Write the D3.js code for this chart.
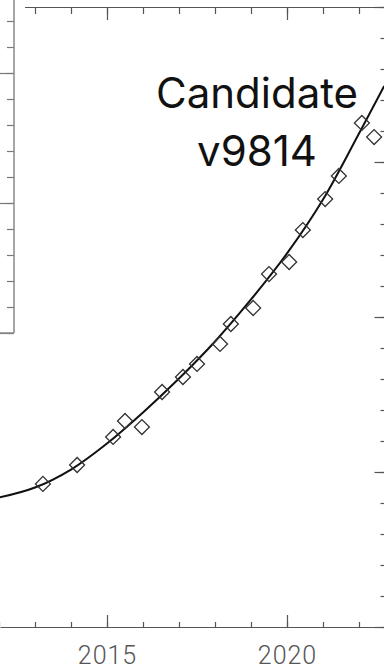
<!DOCTYPE html>
<html>
<head>
<meta charset="utf-8">
<script src="https://cdn.jsdelivr.net/npm/d3@7/dist/d3.min.js"></script>
<style>
  html, body { margin: 0; padding: 0; background: #fff; }
  svg { display: block; }
</style>
</head>
<body>
<svg id="chart" width="384" height="672"></svg>
<script>
// Observed measurements (decimal year, value)
const obsYears  = [2013.22, 2014.17, 2015.17, 2015.50, 2015.97, 2016.53, 2017.11, 2017.50, 2018.14,
                   2018.44, 2019.06, 2019.50, 2020.06, 2020.44, 2021.06, 2021.44, 2022.08, 2022.42];
const obsValues = [0.923, 1.045, 1.226, 1.329, 1.290, 1.516, 1.613, 1.697, 1.826,
                   1.955, 2.058, 2.277, 2.355, 2.561, 2.761, 2.910, 3.252, 3.161];

// Fitted trend, sampled once per year
const fitYears  = [2012, 2013, 2014, 2015, 2016, 2017, 2018, 2019, 2020, 2021, 2022, 2022.7];
const fitValues = [0.835, 0.900, 1.016, 1.184, 1.384, 1.603, 1.842, 2.113, 2.410, 2.758, 3.184, 3.490];

// Axis ticks
const yearLabels  = ["2015", "2020"];
const yearMajor   = [2015, 2020];
const yearMinor   = d3.range(2012, 2023, 1);
const valueMajor  = [0, 1, 2, 3, 4];
const valueMinor  = d3.range(0, 4.001, 0.2);
const insetMajor  = [0, 5, 10];
const insetMinor  = d3.range(0, 12.51, 1);

const title = ["Candidate", "v9814"];

const svg = d3.select("#chart");

// one year spans 36px; 2015 sits at x = 107
const x = d3.scaleLinear()
  .domain([2015 - 107 / 36, 2015 + (384 - 107) / 36])
  .range([0, 384]);
const y = d3.scaleLinear().domain([0, 4]).range([627, 7]);

const axisColor = "#555";

function styleAxis(g, color) {
  g.select(".domain").attr("stroke", color).attr("stroke-width", 1.2);
  g.selectAll(".tick line").attr("stroke", color).attr("stroke-width", 1.2);
}

// Bottom axis: minor ticks, then major ticks with year labels
const xMinorBottom = svg.append("g").attr("transform", "translate(0,627)")
  .call(d3.axisBottom(x).tickValues(yearMinor).tickSizeInner(-5).tickSizeOuter(0).tickFormat(""));
styleAxis(xMinorBottom, axisColor);

const xMajorBottom = svg.append("g").attr("transform", "translate(0,627)")
  .call(d3.axisBottom(x).tickValues(yearMajor).tickSizeInner(-12).tickSizeOuter(0)
    .tickPadding(19)
    .tickFormat((d, i) => yearLabels[i]));
styleAxis(xMajorBottom, axisColor);
xMajorBottom.select(".domain").remove();
xMajorBottom.selectAll(".tick text")
  .attr("fill", "#555")
  .style("font-family", "Roboto, 'Noto Sans', sans-serif")
  .style("font-weight", 300)
  .style("font-size", "25px")
  .style("letter-spacing", "1px");

// Top axis: ticks pointing down, no labels
const xMinorTop = svg.append("g").attr("transform", "translate(0,7)")
  .call(d3.axisTop(x).tickValues(yearMinor).tickSizeInner(-7).tickSizeOuter(0).tickFormat(""));
styleAxis(xMinorTop, axisColor);
const xMajorTop = svg.append("g").attr("transform", "translate(0,7)")
  .call(d3.axisTop(x).tickValues(yearMajor).tickSizeInner(-13).tickSizeOuter(0).tickFormat(""));
styleAxis(xMajorTop, axisColor);
xMajorTop.select(".domain").remove();

// Right axis: ticks pointing inward
const yMinor = svg.append("g").attr("transform", "translate(384.5,0)")
  .call(d3.axisRight(y).tickValues(valueMinor).tickSizeInner(-4).tickSizeOuter(0).tickFormat(""));
styleAxis(yMinor, axisColor);
const yMajor = svg.append("g").attr("transform", "translate(384.5,0)")
  .call(d3.axisRight(y).tickValues(valueMajor).tickSizeInner(-10).tickSizeOuter(0).tickFormat(""));
styleAxis(yMajor, axisColor);
yMajor.select(".domain").remove();

// Fitted trend line
const line = d3.line()
  .x((d, i) => x(fitYears[i]))
  .y(d => y(d))
  .curve(d3.curveCatmullRom.alpha(0.5));

svg.append("path")
  .datum(fitValues)
  .attr("d", line)
  .attr("fill", "none")
  .attr("stroke", "#111")
  .attr("stroke-width", 2);

// Observed points as open diamonds
const diamond = d3.symbol().type(d3.symbolSquare).size(112);
svg.append("g")
  .selectAll("path")
  .data(obsValues)
  .join("path")
  .attr("d", diamond)
  .attr("transform", (d, i) => `translate(${x(obsYears[i])},${y(d)}) rotate(45)`)
  .attr("fill", "none")
  .attr("stroke", "#333")
  .attr("stroke-width", 1.3);

// Inset panel in the upper-left corner
const inset = svg.append("g");
inset.append("rect")
  .attr("x", -10).attr("y", -10)
  .attr("width", 35).attr("height", 350)
  .attr("fill", "#fff");

const yi = d3.scaleLinear().domain([0, 12.5]).range([333, 8]);
const insetMinorAxis = inset.append("g").attr("transform", "translate(14,0)")
  .call(d3.axisLeft(yi).tickValues(insetMinor).tickSizeInner(7).tickSizeOuter(0).tickFormat(""));
styleAxis(insetMinorAxis, "#777");
insetMinorAxis.select(".domain").remove();
const insetMajorAxis = inset.append("g").attr("transform", "translate(14,0)")
  .call(d3.axisLeft(yi).tickValues(insetMajor).tickSizeInner(15).tickSizeOuter(0).tickFormat(""));
styleAxis(insetMajorAxis, "#777");
insetMajorAxis.select(".domain").remove();

inset.append("line")
  .attr("x1", 14).attr("x2", 14).attr("y1", -2).attr("y2", 333)
  .attr("stroke", "#888").attr("stroke-width", 1.5);
inset.append("line")
  .attr("x1", -2).attr("x2", 14).attr("y1", 333).attr("y2", 333)
  .attr("stroke", "#888").attr("stroke-width", 1.5);

// Series label
const label = svg.append("text")
  .attr("text-anchor", "middle")
  .attr("fill", "#111")
  .style("font-family", "Inter, 'Noto Sans', sans-serif")
  .style("font-size", "42px");
label.selectAll("tspan")
  .data(title)
  .join("tspan")
  .attr("x", 257)
  .attr("y", (d, i) => 108 + i * 58)
  .text(d => d);
</script>
</body>
</html>
